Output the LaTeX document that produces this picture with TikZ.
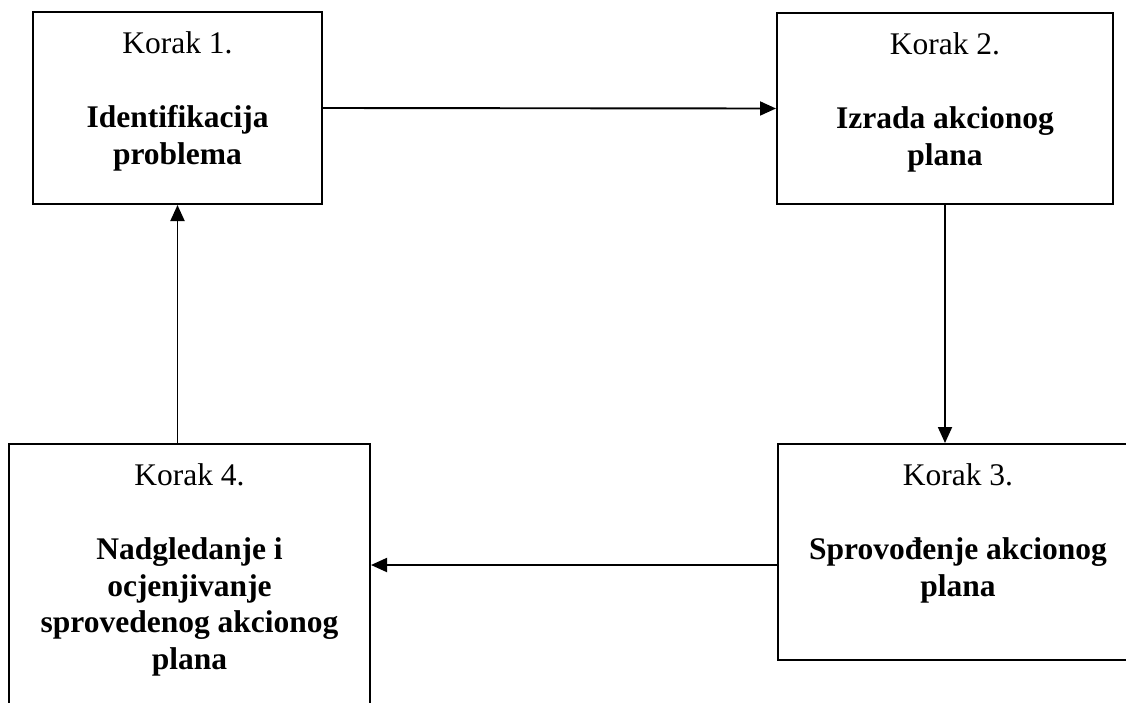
\documentclass[tikz,border=0pt]{standalone}
\usepackage{fontspec}
\setmainfont{Liberation Serif}
\usetikzlibrary{arrows.meta}

\begin{document}
\begin{tikzpicture}[x=1pt, y=-1pt,
    box/.style={draw, line width=2pt, inner sep=0pt},
    txt/.style={anchor=north, align=center, inner sep=0pt, yshift=-20pt,
      font=\fontsize{31.5}{36.5}\selectfont},
    arr/.style={line width=1.9pt, -{Triangle[length=16pt,width=14pt]}}]
  \useasboundingbox (0,0) rectangle (1126,702);

  % the four steps
  \node[box, minimum width=289pt, minimum height=192pt] (b1) at (177.5,108) {};
  \node[box, minimum width=336pt, minimum height=191pt] (b2) at (945,108.5) {};
  \node[box, minimum width=360pt, minimum height=216pt] (b3) at (958,552) {};
  \node[box, minimum width=361pt, minimum height=290pt] (b4) at (189.5,589) {};

  \node[txt] (t1) at (b1.north) {Korak 1.\\[38pt]\textbf{Identifikacija}\\\textbf{problema}};
  \node[txt] (t2) at (b2.north) {Korak 2.\\[38pt]\textbf{Izrada akcionog}\\\textbf{plana}};
  \node[txt] (t3) at (b3.north) {Korak 3.\\[38pt]\textbf{Sprovođenje akcionog}\\\textbf{plana}};
  \node[txt] (t4) at (b4.north) {Korak 4.\\[38pt]\textbf{Nadgledanje i}\\\textbf{ocjenjivanje}\\
    \textbf{sprovedenog akcionog}\\\textbf{plana}};

  % the cycle
  \draw[arr] (b1.east) -- (b2.west);
  \draw[arr] (b2.south) -- (b2.south |- b3.north);
  \draw[arr] ([yshift=-13pt]b3.west) -- ([yshift=-13pt]b3.west -| b4.east);
  \draw[arr] (b1.south |- b4.north) -- (b1.south);
\end{tikzpicture}
\end{document}
